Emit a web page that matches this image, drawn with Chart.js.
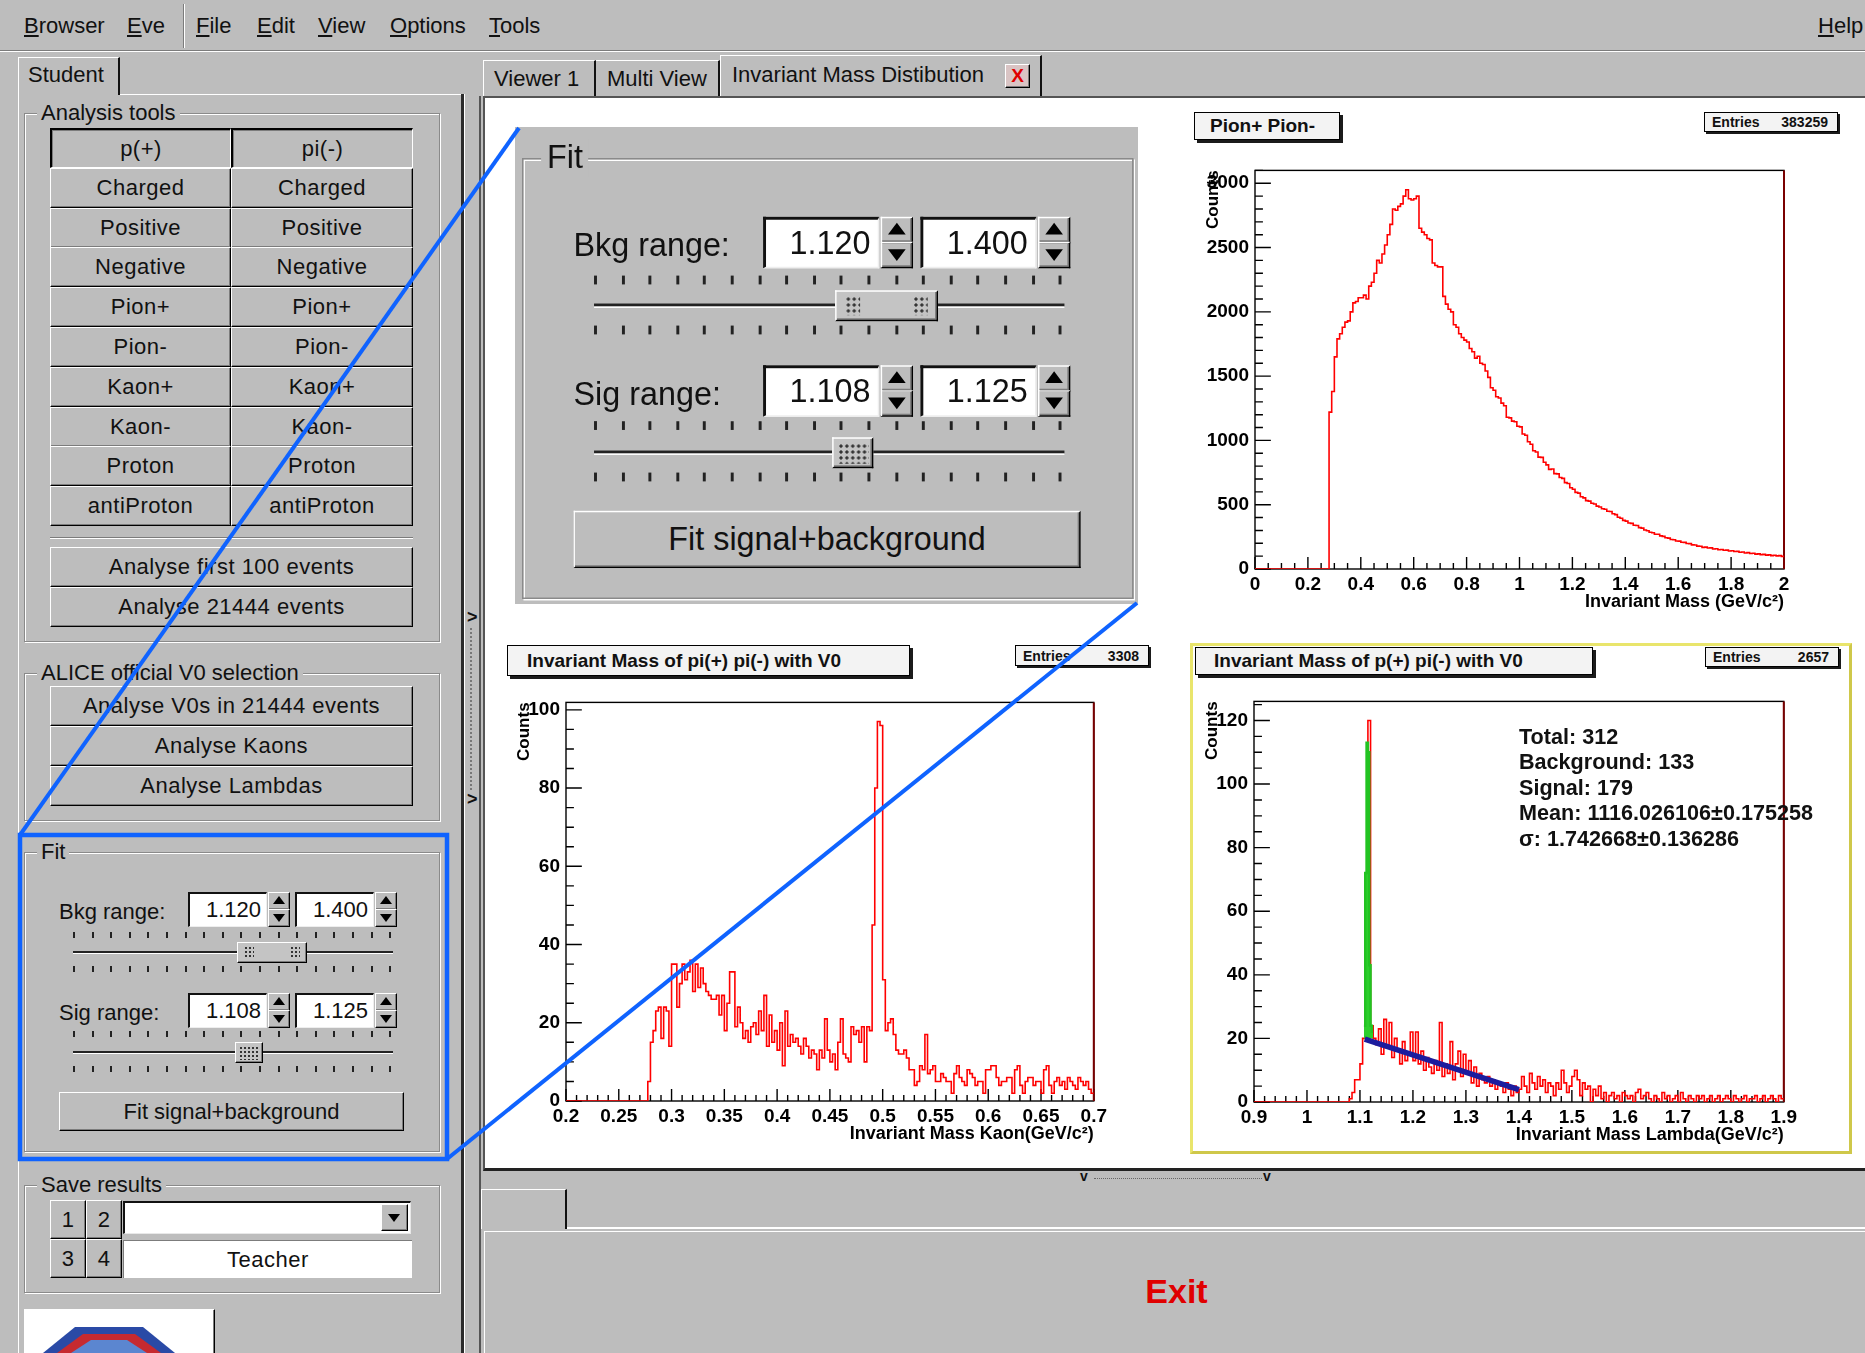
<!DOCTYPE html>
<html>
<head>
<meta charset="utf-8">
<title>Invariant Mass Distibution</title>
<script src="https://cdn.jsdelivr.net/npm/chart.js@4.4.1/dist/chart.umd.min.js"></script>
<style>
body{margin:0;width:1865px;height:1353px;background:#bdbdbd;position:relative;overflow:hidden;font-family:"Liberation Sans",Arial,sans-serif;color:#111}
.a{position:absolute;box-sizing:border-box}
.raised{border-top:1px solid #fff;border-left:1px solid #fff;border-right:1px solid #000;border-bottom:1px solid #000;box-shadow:inset -1px -1px 0 #7c7c7c}
.down{border-top:2px solid #000;border-left:2px solid #000;border-right:1px solid #fff;border-bottom:1px solid #fff;box-shadow:inset 1px 1px 0 #7c7c7c}
.btn{display:flex;align-items:center;justify-content:center;font-size:22px;letter-spacing:.5px;background:#bdbdbd;white-space:nowrap}
.grp{border:1px solid #8a8a8a;box-shadow:inset 1px 1px 0 #fff,1px 1px 0 #fff}
.leg{position:absolute;top:-14px;background:#bdbdbd;padding:0 4px;font-size:22px;line-height:26px;white-space:nowrap}
.txt{position:absolute;font-size:22px;line-height:26px;white-space:nowrap}
.u{text-decoration:underline}
.up{position:absolute;left:4px;top:3px;width:0;height:0;border-left:6px solid transparent;border-right:6px solid transparent;border-bottom:8px solid #000}
.dn{position:absolute;left:4px;top:4px;width:0;height:0;border-left:6px solid transparent;border-right:6px solid transparent;border-top:8px solid #000}
.tk{position:absolute;width:2px;height:6px;background:#222}
.dots{position:absolute;background-image:radial-gradient(circle,#333 0.9px,transparent 1.3px);background-size:4px 4px}
.ptitle{position:absolute;box-sizing:border-box;background:#f3f3f3;border:1px solid #000;box-shadow:3px 3px 0 #1b1b1b;font-weight:bold;font-size:19px;display:flex;align-items:center;white-space:nowrap}
.pent{position:absolute;box-sizing:border-box;background:#f3f3f3;border:1px solid #000;box-shadow:2px 2px 0 #1b1b1b;font-weight:bold;font-size:14px;display:flex;align-items:center;justify-content:space-between;padding:0 9px 0 7px;white-space:nowrap}
.chart{position:absolute}
</style>
</head>
<body>

<!-- menu bar -->
<div class="a" style="left:0;top:0;width:1865px;height:51px;border-bottom:1px solid #7c7c7c;box-shadow:0 1px 0 #fff"></div>
<div class="txt" style="left:24px;top:13px"><span class="u">B</span>rowser</div>
<div class="txt" style="left:127px;top:13px"><span class="u">E</span>ve</div>
<div class="a" style="left:183px;top:4px;width:2px;height:44px;border-left:1px solid #7c7c7c;border-right:1px solid #fff"></div>
<div class="txt" style="left:196px;top:13px"><span class="u">F</span>ile</div>
<div class="txt" style="left:257px;top:13px"><span class="u">E</span>dit</div>
<div class="txt" style="left:318px;top:13px"><span class="u">V</span>iew</div>
<div class="txt" style="left:390px;top:13px"><span class="u">O</span>ptions</div>
<div class="txt" style="left:489px;top:13px"><span class="u">T</span>ools</div>
<div class="txt" style="left:1818px;top:13px"><span class="u">H</span>elp</div>

<!-- left panel -->
<div class="a" style="left:18px;top:57px;width:102px;height:38px;border-top:1px solid #fff;border-left:1px solid #fff;border-right:2px solid #111"></div>
<div class="txt" style="left:28px;top:62px">Student</div>
<div class="a" style="left:120px;top:94px;width:342px;height:1px;background:#fff"></div>
<div class="a" style="left:18px;top:94px;width:1px;height:1260px;background:#fff"></div>
<div class="a" style="left:461px;top:94px;width:3px;height:1260px;background:#2b2b2b"></div>
<div class="a" style="left:464px;top:94px;width:1px;height:1260px;background:#fff"></div>

<div class="a grp" style="left:24px;top:113px;width:416px;height:529px"><div class="leg" style="left:12px">Analysis tools</div></div>
<div id="particleGrid"></div>
<div class="a" style="left:50px;top:537px;width:363px;height:2px;border-top:1px solid #7c7c7c;border-bottom:1px solid #fff"></div>
<div class="a btn raised" style="left:50px;top:547px;width:363px;height:40px">Analyse first 100 events</div>
<div class="a btn raised" style="left:50px;top:587px;width:363px;height:40px">Analyse 21444 events</div>

<div class="a grp" style="left:24px;top:673px;width:416px;height:148px"><div class="leg" style="left:12px">ALICE official V0 selection</div></div>
<div class="a btn raised" style="left:50px;top:686px;width:363px;height:40px">Analyse V0s in 21444 events</div>
<div class="a btn raised" style="left:50px;top:726px;width:363px;height:40px">Analyse Kaons</div>
<div class="a btn raised" style="left:50px;top:766px;width:363px;height:40px">Analyse Lambdas</div>

<div id="fitSmall" class="a" style="left:24px;top:852px;width:416px;height:300px"></div>

<div class="a grp" style="left:24px;top:1185px;width:416px;height:108px"><div class="leg" style="left:12px">Save results</div></div>
<div class="a btn raised" style="left:50px;top:1200px;width:36px;height:39px">1</div>
<div class="a btn raised" style="left:86px;top:1200px;width:36px;height:39px">2</div>
<div class="a btn raised" style="left:50px;top:1239px;width:36px;height:39px">3</div>
<div class="a btn raised" style="left:86px;top:1239px;width:36px;height:39px">4</div>
<div class="a" style="left:123px;top:1201px;width:288px;height:33px;background:#fff;border-top:2px solid #111;border-left:2px solid #111;border-right:1px solid #e8e8e8;border-bottom:1px solid #e8e8e8"></div>
<div class="a raised" style="left:381px;top:1204px;width:27px;height:27px;background:#bdbdbd"><div class="dn" style="left:6px;top:9px"></div></div>
<div class="a btn" style="left:123px;top:1240px;width:289px;height:38px;background:#fff;border-top:1px solid #7c7c7c;border-left:1px solid #7c7c7c">Teacher</div>

<div class="a raised" style="left:24px;top:1309px;width:191px;height:60px;background:#fff"></div>
<svg class="a" style="left:25px;top:1310px" width="188" height="43">
  <polygon points="50,17 118,17 150,43 18,43" fill="#2a4aa6"/>
  <polygon points="58,24 110,24 136,43 32,43" fill="#c62a30"/>
  <polygon points="66,30 102,30 122,43 46,43" fill="#5b86d0"/>
</svg>

<!-- splitter arrows between panels -->
<div class="txt" style="left:467px;top:604px;font-size:18px;font-weight:bold">&gt;</div>
<div class="a" style="left:470px;top:628px;width:2px;height:162px;border-left:2px dotted #777"></div>
<div class="txt" style="left:467px;top:786px;font-size:18px;font-weight:bold">&gt;</div>
<div class="a" style="left:479px;top:96px;width:2px;height:1260px;background:#555"></div>

<!-- tabs -->
<div class="a" style="left:483px;top:60px;width:113px;height:37px;border-top:1px solid #fff;border-left:1px solid #fff;border-right:2px solid #111"></div>
<div class="txt" style="left:494px;top:66px">Viewer 1</div>
<div class="a" style="left:596px;top:60px;width:124px;height:37px;border-top:1px solid #fff;border-right:2px solid #111"></div>
<div class="txt" style="left:607px;top:66px">Multi View</div>
<div class="a" style="left:720px;top:55px;width:322px;height:42px;border-top:1px solid #fff;border-left:1px solid #fff;border-right:2px solid #111;background:#bdbdbd"></div>
<div class="txt" style="left:732px;top:62px">Invariant Mass Distibution</div>
<div class="a raised" style="left:1005px;top:64px;width:25px;height:24px;background:#d9c4c4;color:#e00000;font-weight:bold;font-size:19px;display:flex;align-items:center;justify-content:center">X</div>

<!-- canvas -->
<div class="a" style="left:483px;top:96px;width:1382px;height:1075px;background:#fff;border-top:2px solid #555;border-left:2px solid #555;border-bottom:3px solid #222"></div>

<!-- pads -->
<div class="a" style="left:1190px;top:643px;width:662px;height:511px;border:3px solid #e9e56c;border-right-color:#cfc84a;border-bottom-color:#cfc84a"></div>

<div class="chart" style="left:1193px;top:153px;width:605px;height:471px"><canvas id="pion-chart"></canvas></div>
<div class="chart" style="left:504px;top:685px;width:607px;height:471px"><canvas id="kaon-chart"></canvas></div>
<div class="chart" style="left:1192px;top:684px;width:609px;height:473px"><canvas id="lambda-chart"></canvas></div>

<div class="ptitle" style="left:1194px;top:112px;width:146px;height:28px;padding-left:15px">Pion+ Pion-</div>
<div class="pent" style="left:1704px;top:112px;width:134px;height:20px"><span>Entries</span><span id="ent-pion"></span></div>
<div class="ptitle" style="left:507px;top:645px;width:403px;height:31px;padding-left:19px">Invariant Mass of pi(+) pi(-) with V0</div>
<div class="pent" style="left:1015px;top:645px;width:134px;height:21px"><span>Entries</span><span id="ent-kaon"></span></div>
<div class="ptitle" style="left:1195px;top:647px;width:398px;height:28px;padding-left:18px">Invariant Mass of p(+) pi(-) with V0</div>
<div class="pent" style="left:1705px;top:647px;width:134px;height:20px"><span>Entries</span><span id="ent-lambda"></span></div>
<div id="fitText" class="a" style="left:1519px;top:724px;font-weight:bold;font-size:21.6px;line-height:25.4px;white-space:nowrap"></div>

<!-- zoomed fit panel -->
<div class="a" style="left:515px;top:127px;width:623px;height:477px;background:#bdbdbd"></div>
<div id="fitBig" class="a" style="left:522px;top:158px;width:416px;height:300px;transform:scale(1.47);transform-origin:0 0"></div>

<!-- bottom area -->
<div class="txt" style="left:1080px;top:1163px;font-size:14px;font-weight:bold">v</div>
<div class="a" style="left:1094px;top:1178px;width:168px;height:1px;border-top:1px dotted #666"></div>
<div class="txt" style="left:1263px;top:1163px;font-size:14px;font-weight:bold">v</div>
<div class="a" style="left:481px;top:1189px;width:86px;height:40px;border-top:1px solid #fff;border-left:1px solid #fff;border-right:2px solid #111"></div>
<div class="a" style="left:567px;top:1227px;width:1298px;height:2px;background:#fff"></div>
<div class="a raised" style="left:484px;top:1231px;width:1385px;height:130px;display:flex;align-items:center;justify-content:center;padding-bottom:10px">
  <span style="color:#e00000;font-weight:bold;font-size:34px">Exit</span>
</div>

<!-- callout -->
<svg class="a" style="left:0;top:0;z-index:10" width="1865" height="1353">
  <rect x="20" y="835" width="427" height="324" fill="none" stroke="#0f63ff" stroke-width="4.5"/>
  <line x1="20" y1="835" x2="519" y2="128" stroke="#0f63ff" stroke-width="4"/>
  <line x1="447" y1="1159" x2="1137" y2="603" stroke="#0f63ff" stroke-width="4"/>
</svg>

<script>
// pi+ pi- invariant mass, 0..2 GeV, 0.01 bins
const pionLow = 0;
const pionBin = 0.01;
const pionCounts = [
	0, 0, 0, 0, 0, 0, 0, 0, 0, 0,
	0, 0, 0, 0, 0, 0, 0, 0, 0, 0,
	0, 0, 0, 0, 0, 0, 0, 0, 1220, 1380,
	1650, 1790, 1830, 1880, 1920, 1930, 2000, 2070, 2080, 2110,
	2110, 2130, 2100, 2200, 2230, 2300, 2400, 2380, 2450, 2520,
	2600, 2680, 2800, 2790, 2820, 2840, 2900, 2950, 2880, 2870,
	2880, 2900, 2650, 2620, 2600, 2570, 2560, 2380, 2360, 2350,
	2350, 2120, 2060, 2020, 2000, 1900, 1880, 1830, 1800, 1780,
	1765, 1715, 1690, 1640, 1655, 1600, 1590, 1540, 1490, 1410,
	1390, 1340, 1330, 1290, 1270, 1180, 1175, 1150, 1145, 1110,
	1105, 1050, 1040, 990, 970, 920, 910, 870, 868, 830,
	810, 775, 778, 742, 740, 712, 705, 672, 665, 632,
	620, 596, 590, 562, 553, 532, 528, 511, 505, 489,
	482, 468, 465, 449, 447, 430, 423, 402, 395, 378,
	372, 358, 355, 340, 338, 322, 318, 303, 298, 286,
	282, 270, 270, 258, 254, 243, 240, 230, 228, 218,
	217, 208, 207, 198, 197, 188, 187, 178, 177, 168,
	170, 163, 164, 156, 157, 150, 152, 146, 147, 140,
	142, 136, 137, 130, 132, 125, 127, 120, 122, 116,
	118, 112, 114, 108, 110, 104, 107, 102, 104, 98,
];

// pi+ pi- with V0 (kaon), 0.2..0.7 GeV, 0.0025 bins
const kaonLow = 0.2;
const kaonBin = 0.0025;
const kaonCounts = [
	0, 0, 0, 0, 0, 0, 0, 0, 0, 0,
	0, 0, 0, 0, 0, 0, 0, 0, 0, 0,
	0, 0, 0, 0, 0, 0, 0, 0, 0, 0,
	0, 5, 15, 18, 23, 24, 16, 24, 23, 14,
	35, 35, 24, 30, 35, 31, 33, 36, 28, 35,
	29, 34, 30, 28, 27, 26, 26, 27, 22, 27,
	18, 25, 33, 33, 19, 24, 20, 16, 18, 15,
	19, 20, 17, 23, 18, 27, 14, 22, 15, 18,
	13, 20, 9, 23, 14, 17, 15, 16, 14, 12,
	16, 14, 11, 13, 12, 8, 13, 11, 21, 13,
	10, 12, 8, 15, 21, 12, 11, 10, 19, 17,
	18, 15, 19, 10, 19, 18, 45, 80, 97, 96,
	31, 18, 20, 21, 17, 13, 12, 12, 13, 11,
	8, 8, 4, 5, 9, 8, 17, 7, 8, 9,
	5, 5, 7, 6, 5, 5, 2, 7, 9, 6,
	5, 4, 8, 7, 6, 4, 5, 5, 2, 8,
	8, 9, 9, 6, 4, 5, 5, 6, 6, 2,
	8, 9, 4, 2, 5, 6, 6, 4, 5, 5,
	2, 8, 9, 4, 2, 5, 6, 4, 5, 3,
	6, 5, 4, 3, 6, 5, 4, 5, 3, 2,
];

// p+ pi- with V0 (lambda), 0.9..1.9 GeV, 0.005 bins
const lambdaLow = 0.9;
const lambdaBin = 0.005;
const lambdaCounts = [
	0, 0, 0, 0, 0, 0, 0, 0, 0, 0,
	0, 0, 0, 0, 0, 0, 0, 0, 0, 0,
	0, 0, 0, 0, 0, 0, 0, 0, 0, 0,
	0, 0, 0, 0, 0, 0, 1, 3, 7, 7,
	12, 20, 22, 120, 24, 20, 18, 23, 15, 26,
	17, 25, 14, 20, 16, 12, 19, 13, 15, 22,
	13, 22, 12, 16, 10, 14, 11, 9, 13, 10,
	25, 8, 12, 9, 19, 7, 12, 16, 8, 15,
	9, 13, 6, 11, 5, 9, 7, 6, 8, 5,
	7, 4, 6, 5, 3, 6, 4, 2, 5, 3,
	4, 8, 5, 3, 9, 6, 4, 8, 5, 7,
	3, 6, 5, 2, 6, 4, 10, 6, 3, 5,
	8, 10, 7, 2, 6, 4, 5, 0, 4, 2,
	5, 1, 3, 0, 2, 3, 1, 2, 0, 3,
	2, 1, 2, 0, 3, 4, 1, 2, 3, 1,
	0, 2, 1, 0, 3, 1, 2, 0, 1, 2,
	0, 3, 1, 0, 2, 1, 0, 2, 1, 2,
	0, 1, 2, 0, 1, 2, 0, 1, 2, 1,
	0, 2, 1, 0, 1, 2, 0, 1, 1, 2,
	0, 1, 2, 0, 1, 2, 1, 0, 2, 1,
];

// signal region (green) and linear background fit (blue)
const signalLow = 1.1075;
const signalBin = 0.0025;
const signalCounts = [24, 72, 113, 110, 43, 24, 22];
const signalBase = 20;
const bkgFitMass = [1.109, 1.4];
const bkgFitCounts = [19.8, 3.9];

// axis ticks (labelled values)
const pionXTicks = [0, 0.2, 0.4, 0.6, 0.8, 1, 1.2, 1.4, 1.6, 1.8, 2];
const pionYTicks = [0, 500, 1000, 1500, 2000, 2500, 3000];
const kaonXTicks = [0.2, 0.25, 0.3, 0.35, 0.4, 0.45, 0.5, 0.55, 0.6, 0.65, 0.7];
const kaonYTicks = [0, 20, 40, 60, 80, 100];
const lambdaXTicks = [0.9, 1, 1.1, 1.2, 1.3, 1.4, 1.5, 1.6, 1.7, 1.8, 1.9];
const lambdaYTicks = [0, 20, 40, 60, 80, 100, 120];

const entries = { pion: "383259", kaon: "3308", lambda: "2657" };
const fitResults = [
	"Total: 312",
	"Background: 133",
	"Signal: 179",
	"Mean: 1116.026106\u00b10.175258",
	"\u03c3: 1.742668\u00b10.136286",
];

const particleButtons = [
	["p(+)", "pi(-)"],
	["Charged", "Charged"],
	["Positive", "Positive"],
	["Negative", "Negative"],
	["Pion+", "Pion+"],
	["Pion-", "Pion-"],
	["Kaon+", "Kaon+"],
	["Kaon-", "Kaon-"],
	["Proton", "Proton"],
	["antiProton", "antiProton"],
];
const bkgRange = ["1.120", "1.400"];
const sigRange = ["1.108", "1.125"];

// ---- gui bits ----
let grid = "";
particleButtons.forEach((row, i) => {
	const top = 128 + i * 39.8;
	const cls = i === 0 ? "down" : "raised";
	grid += `<div class="a btn ${cls}" style="left:50px;top:${top}px;width:181px;height:40px">${row[0]}</div>`;
	grid += `<div class="a btn ${cls}" style="left:231px;top:${top}px;width:182px;height:40px">${row[1]}</div>`;
});
document.getElementById("particleGrid").innerHTML = grid;

function spin(x, y, val) {
	return `<div class="a" style="left:${x}px;top:${y}px;width:79px;height:35px;background:#fff;border-top:2px solid #111;border-left:2px solid #111;border-right:1px solid #eee;border-bottom:1px solid #eee;text-align:right;padding-right:5px;font-size:22px;line-height:31px">${val}</div>` +
		`<div class="a raised" style="left:${x + 80}px;top:${y}px;width:22px;height:18px"><div class="up"></div></div>` +
		`<div class="a raised" style="left:${x + 80}px;top:${y + 17}px;width:22px;height:18px"><div class="dn"></div></div>`;
}

function sliderRow(t1, line, t2, thumbX, thumbW, twoEnds) {
	let s = "";
	for (let i = 0; i < 18; i++) {
		const x = 49 + i * 18.6;
		s += `<div class="tk" style="left:${x}px;top:${t1 - 3}px"></div>`;
		s += `<div class="tk" style="left:${x}px;top:${t2 - 3}px"></div>`;
	}
	s += `<div class="a" style="left:49px;top:${line - 1}px;width:320px;height:3px;border-top:2px solid #222;border-bottom:1px solid #fff"></div>`;
	s += `<div class="a raised" style="left:${thumbX}px;top:${line - 10}px;width:${thumbW}px;height:21px;background:#c4c4c4">`;
	if (twoEnds) {
		s += `<div class="dots" style="left:6px;top:3px;width:10px;height:13px"></div><div class="dots" style="right:6px;top:3px;width:10px;height:13px"></div>`;
	} else {
		s += `<div class="dots" style="left:3px;top:3px;width:21px;height:14px"></div>`;
	}
	return s + "</div>";
}

function fitPanel() {
	let s = '<div class="a grp" style="left:0;top:0;width:416px;height:300px"><div class="leg" style="left:12px">Fit</div></div>';
	s += '<div class="txt" style="left:35px;top:47px">Bkg range:</div>';
	s += spin(164, 40, bkgRange[0]) + spin(271, 40, bkgRange[1]);
	s += sliderRow(83, 100, 117, 213, 70, true);
	s += '<div class="txt" style="left:35px;top:148px">Sig range:</div>';
	s += spin(164, 141, sigRange[0]) + spin(271, 141, sigRange[1]);
	s += sliderRow(182, 200, 217, 211, 28, false);
	s += '<div class="a btn raised" style="left:35px;top:240px;width:345px;height:39px;letter-spacing:0">Fit signal+background</div>';
	return s;
}
document.getElementById("fitSmall").innerHTML = fitPanel();
document.getElementById("fitBig").innerHTML = fitPanel();

document.getElementById("ent-pion").textContent = entries.pion;
document.getElementById("ent-kaon").textContent = entries.kaon;
document.getElementById("ent-lambda").textContent = entries.lambda;
document.getElementById("fitText").innerHTML = fitResults.join("<br>");

// ---- charts ----
Chart.defaults.font.family = "'Liberation Sans', Arial, sans-serif";
Chart.defaults.color = "#000";

// histogram bins -> step points at bin low edges, plus the last upper edge
function histPoints(low, width, counts) {
	const pts = counts.map((c, i) => ({ x: low + i * width, y: c }));
	pts.push({ x: low + counts.length * width, y: counts[counts.length - 1] });
	return pts;
}

// ROOT style frame: ticks inside the frame, black box, dark red right edge
const rootFrame = {
	id: "rootFrame",
	beforeDatasetsDraw(chart, args, o) {
		const { ctx, chartArea: a } = chart;
		const x = chart.scales.x;
		const y = chart.scales.y;
		ctx.save();
		ctx.strokeStyle = "#000";
		ctx.lineWidth = 1.4;
		ctx.beginPath();
		const nx = Math.round((x.max - x.min) / o.xMinor);
		for (let i = 0; i <= nx; i++) {
			const v = x.min + i * o.xMinor;
			const major = Math.abs(v / o.xMajor - Math.round(v / o.xMajor)) < 1e-6;
			const px = x.getPixelForValue(v);
			ctx.moveTo(px, a.bottom);
			ctx.lineTo(px, a.bottom - (a.bottom - a.top) * (major ? 0.03 : 0.015));
		}
		const ny = Math.floor((y.max - y.min) / o.yMinor + 1e-6);
		for (let i = 0; i <= ny; i++) {
			const v = y.min + i * o.yMinor;
			const major = Math.abs(v / o.yMajor - Math.round(v / o.yMajor)) < 1e-6;
			const py = y.getPixelForValue(v);
			ctx.moveTo(a.left, py);
			ctx.lineTo(a.left + (a.right - a.left) * (major ? 0.03 : 0.015), py);
		}
		ctx.stroke();
		ctx.strokeRect(a.left, a.top, a.right - a.left, a.bottom - a.top);
		ctx.strokeStyle = "#7a0000";
		ctx.lineWidth = 2;
		ctx.beginPath();
		ctx.moveTo(a.right, a.top);
		ctx.lineTo(a.right, a.bottom);
		ctx.stroke();
		ctx.restore();
	},
};

function histOptions(xr, yr, xTitle, padRight) {
	return {
		responsive: true,
		maintainAspectRatio: false,
		animation: false,
		events: [],
		layout: { autoPadding: false, padding: { top: 10, right: padRight, left: 0, bottom: 0 } },
		plugins: {
			legend: { display: false },
			tooltip: { enabled: false },
			rootFrame: { xMajor: xr.major, xMinor: xr.minor, yMajor: yr.major, yMinor: yr.minor },
		},
		scales: {
			x: {
				type: "linear",
				min: xr.ticks[0],
				max: xr.ticks[xr.ticks.length - 1],
				grid: { display: false, drawTicks: false },
				border: { display: false },
				afterBuildTicks: (s) => { s.ticks = xr.ticks.map((v) => ({ value: v })); },
				ticks: { maxRotation: 0, autoSkip: false, padding: 4, font: { size: 19, weight: "bold" }, callback: (v) => String(v) },
				title: { display: true, text: xTitle, align: "end", padding: { top: 0, bottom: 11 }, font: { size: 18, weight: "bold" } },
				afterFit: (s) => { s.height = 55; },
			},
			y: {
				min: 0,
				max: yr.max,
				grid: { display: false, drawTicks: false },
				border: { display: false },
				afterBuildTicks: (s) => { s.ticks = yr.ticks.map((v) => ({ value: v })); },
				ticks: { padding: 6, autoSkip: false, font: { size: 19, weight: "bold" }, callback: (v) => String(v) },
				title: { display: true, text: "Counts", align: "end", padding: { top: 10, bottom: 0 }, font: { size: 17, weight: "bold" } },
				afterFit: (s) => { s.width = 62; },
			},
		},
	};
}

const histLine = {
	borderColor: "#ff0000",
	borderWidth: 1.6,
	pointRadius: 0,
	stepped: true,
	fill: false,
};

new Chart(document.getElementById("pion-chart"), {
	type: "line",
	data: { datasets: [{ ...histLine, data: histPoints(pionLow, pionBin, pionCounts) }] },
	options: histOptions(
		{ ticks: pionXTicks, major: 0.2, minor: 0.05 },
		{ ticks: pionYTicks, max: 3100, major: 500, minor: 100 },
		"Invariant Mass (GeV/c\u00b2)", 14),
	plugins: [rootFrame],
});

new Chart(document.getElementById("kaon-chart"), {
	type: "line",
	data: { datasets: [{ ...histLine, data: histPoints(kaonLow, kaonBin, kaonCounts) }] },
	options: histOptions(
		{ ticks: kaonXTicks, major: 0.05, minor: 0.01 },
		{ ticks: kaonYTicks, max: 101.9, major: 20, minor: 5 },
		"Invariant Mass Kaon(GeV/c\u00b2)", 16),
	plugins: [rootFrame],
});

new Chart(document.getElementById("lambda-chart"), {
	type: "line",
	data: {
		datasets: [
			{
				data: bkgFitMass.map((m, i) => ({ x: m, y: bkgFitCounts[i] })),
				borderColor: "#1c1c9e",
				borderWidth: 5.5,
				pointRadius: 0,
				fill: false,
				order: 0,
			},
			{
				data: histPoints(signalLow, signalBin, signalCounts),
				borderColor: "#22c322",
				backgroundColor: "#2ccf2c",
				borderWidth: 2.5,
				pointRadius: 0,
				stepped: true,
				fill: { value: signalBase },
				order: 1,
			},
			{ ...histLine, data: histPoints(lambdaLow, lambdaBin, lambdaCounts), order: 2 },
		],
	},
	options: histOptions(
		{ ticks: lambdaXTicks, major: 0.1, minor: 0.02 },
		{ ticks: lambdaYTicks, max: 126, major: 20, minor: 5 },
		"Invariant Mass Lambda(GeV/c\u00b2)", 16),
	plugins: [rootFrame],
});
</script>
</body>
</html>
